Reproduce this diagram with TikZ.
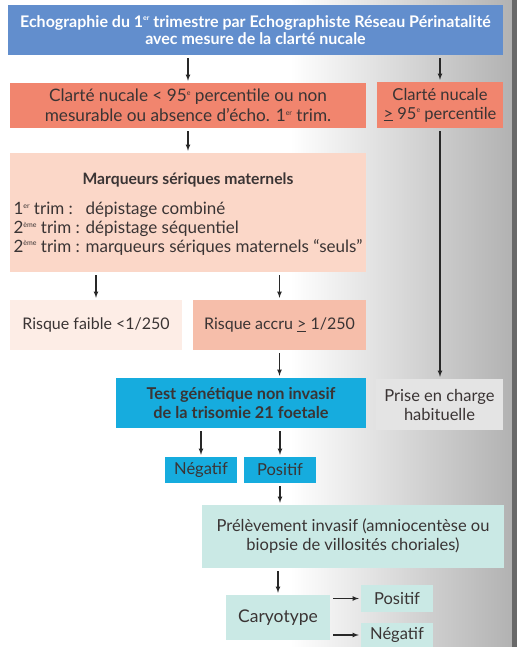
\documentclass[tikz,border=0pt]{standalone}
\usepackage{fontspec}
\setmainfont{Lato}
\usetikzlibrary{calc}
\definecolor{echoblue}{RGB}{98,142,205}
\definecolor{salmon}{RGB}{241,133,110}
\definecolor{pinklight}{RGB}{251,215,200}
\definecolor{pinkpale}{RGB}{253,237,230}
\definecolor{pinkmid}{RGB}{246,190,170}
\definecolor{testcyan}{RGB}{22,172,222}
\definecolor{greylight}{RGB}{228,228,228}
\definecolor{tealpale}{RGB}{202,233,229}
\definecolor{textgrey}{RGB}{58,52,52}
\definecolor{arrowgrey}{RGB}{40,40,40}
\definecolor{photogrey}{RGB}{178,178,178}
\definecolor{edgegrey}{RGB}{105,105,105}
\newcommand{\sgeq}{\underline{>}}
\newcommand{\sups}[1]{\raisebox{0.75ex}{\fontsize{7}{7}\selectfont #1}}
\tikzset{
	box/.style={inner sep=1pt, align=center, text=textgrey, font=\fontsize{16.5}{19}\selectfont},
	link/.style={->, draw=arrowgrey, line width=1.1pt, shorten >=2pt, shorten <=3pt}
}
\begin{document}
\begin{tikzpicture}[x=1pt,y=-1pt,>=latex]
	\useasboundingbox (0,0) rectangle (517,647);
	% background
	\fill [white] (0,0) rectangle (517,647);
	\shade [left color=white, right color=photogrey] (290,0) rectangle (512,647);
	\fill [edgegrey] (512,0) rectangle (517,647);
	
	\node [box, fill=echoblue, text=white, minimum width=495, minimum height=50,
		font=\fontsize{16}{17.5}\selectfont\bfseries] (echo) at (255.5,30)
		{Echographie du 1\sups{er} trimestre par Echographiste Réseau Périnatalité\\
		avec mesure de la clarté nucale};
	
	\node [box, fill=salmon, minimum width=356, minimum height=45, font=\fontsize{17.2}{20}\selectfont] (cnlow) at (188,105.5)
		{Clarté nucale < 95\sups{e} percentile ou non\\
		mesurable ou absence d’écho. 1\sups{er} trim.};
	\node [box, fill=salmon, minimum width=126, minimum height=46] (cnhigh) at (440,105)
		{Clarté nucale\\ \sgeq\ 95\sups{e} percentile};
	
	\node [box, fill=pinklight, minimum width=356, minimum height=119, font=\fontsize{17}{18.5}\selectfont] (marq) at (188,212.5)
		{{\fontsize{15.7}{18}\selectfont\bfseries\rule{0pt}{17pt}Marqueurs sériques maternels}\\[14pt]
		\begin{tabular}{@{}l@{ }l@{}}
		1\sups{er} trim : & dépistage combiné\\
		2\sups{ème} trim : & dépistage séquentiel\\
		2\sups{ème} trim : & marqueurs sériques maternels “seuls”
		\end{tabular}};
	
	\node [box, fill=pinkpale, minimum width=172, minimum height=50, font=\fontsize{16}{19}\selectfont] (faible) at (96,325)
		{Risque faible <1/250};
	\node [box, fill=pinkmid, minimum width=173, minimum height=50, font=\fontsize{16}{19}\selectfont] (accru) at (279.5,325)
		{Risque accru \sgeq\ 1/250};
	
	\node [box, fill=testcyan, minimum width=250, minimum height=50, font=\fontsize{16.3}{19}\selectfont\bfseries] (test) at (241,403)
		{Test génétique non invasif\\ de la trisomie 21 foetale};
	\node [box, fill=greylight, minimum width=127, minimum height=51] (prise) at (439.5,404.5)
		{Prise en charge\\ habituelle};
	
	\node [box, fill=testcyan, minimum width=72, minimum height=26] (neg) at (201,470) {Négatif};
	\node [box, fill=testcyan, minimum width=72, minimum height=26] (pos) at (280,470) {Positif};
	
	\node [box, fill=tealpale, minimum width=302, minimum height=63] (prel) at (353,536.5)
		{Prélèvement invasif (amniocentèse ou\\ biopsie de villosités choriales)};
	
	\node [box, fill=tealpale, minimum width=104, minimum height=45, font=\fontsize{17.5}{20}\selectfont] (caryo) at (278,617.5) {Caryotype};
	\node [box, fill=tealpale, minimum width=72, minimum height=27] (pos2) at (397,598.5) {Positif};
	\node [box, fill=tealpale, minimum width=72, minimum height=24] (neg2) at (397,635) {Négatif};
	
	% connectors
	\draw [link] (echo.south -| cnlow) -- (cnlow);
	\draw [link] (echo.south -| cnhigh) -- (cnhigh);
	\draw [link] (cnlow) -- (marq);
	\draw [link] (marq.south -| faible) -- (faible);
	\draw [link] (marq.south -| accru) -- (accru);
	\draw [link] (accru) -- (accru.south |- test.north);
	\draw [link] (cnhigh) -- (cnhigh.south |- prise.north);
	\draw [link] (test.south -| neg) -- (neg);
	\draw [link] (test.south -| pos) -- (pos);
	\draw [link] (pos) -- (pos.south |- prel.north);
	\draw [link] (prel.south -| caryo) -- (caryo);
	\draw [link] (caryo.east |- pos2.west) -- (pos2.west);
	\draw [link] (caryo.east |- neg2.west) -- (neg2.west);
										
\end{tikzpicture}
\end{document}
